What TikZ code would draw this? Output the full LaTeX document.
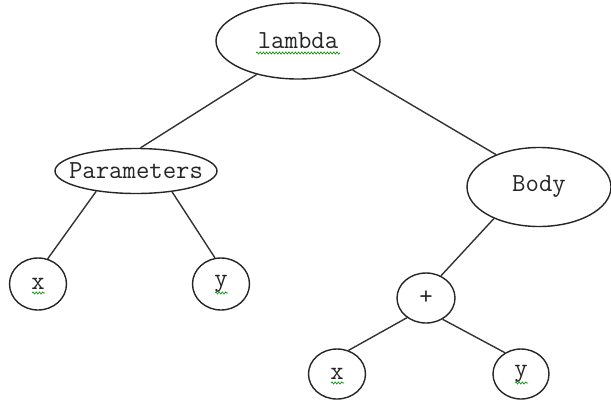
\documentclass[tikz,border=0pt]{standalone}
\usetikzlibrary{shapes.geometric,calc,decorations.pathmorphing}
\begin{document}
\begin{tikzpicture}[x=1pt,y=-1pt,
  tnode/.style={ellipse,draw=black!85,line width=1.4pt,inner sep=0pt},
  tlab/.style={font=\ttfamily\fontsize{26}{28}\selectfont,text=black!85,inner sep=0pt},
  edge/.style={draw=black!80,line width=1.4pt},
  squig/.style={draw=green!55!black,line width=0.6pt,decorate,
    decoration={snake,amplitude=1.1pt,segment length=3.2pt}}]
\path[use as bounding box,fill=white] (0,0) rectangle (611,400);
\node[tnode,minimum width=164pt,minimum height=76pt,label={[tlab]center:lambda}] (lambda) at (298,41) {};
\node[tnode,minimum width=162pt,minimum height=45pt,label={[tlab]center:Parameters}] (params) at (136,171) {};
\node[tnode,minimum width=144pt,minimum height=79pt,label={[tlab]center:Body}] (body) at (539,187) {};
\node[tnode,minimum width=57pt,minimum height=52pt,label={[tlab]center:x}] (x1) at (38,284) {};
\node[tnode,minimum width=57pt,minimum height=52pt,label={[tlab]center:y}] (y1) at (221,284) {};
\node[tnode,minimum width=58pt,minimum height=50pt,label={[tlab]center:+}] (plus) at (426,298) {};
\node[tnode,minimum width=57pt,minimum height=50pt,label={[tlab]center:x}] (x2) at (337,374) {};
\node[tnode,minimum width=56pt,minimum height=50pt,label={[tlab]center:y}] (y2) at (521,374) {};
\draw[edge] (lambda.219) -- (params.79);
\draw[edge] (lambda.-28) -- (body.143);
\draw[edge] (params.207) -- (x1.69);
\draw[edge] (params.330) -- (y1.103);
\draw[edge] (body.215) -- (plus.56);
\draw[edge] (plus.226) -- (x2.64);
\draw[edge] (plus.308) -- (y2.127);
\draw[squig] ($(lambda.center)+(-42,12)$) -- ++(84,0);
\foreach \n in {x1,y1,x2,y2}{
  \draw[squig] ($(\n.center)+(-6,9)$) -- ++(13,0);
}
\end{tikzpicture}
\end{document}
